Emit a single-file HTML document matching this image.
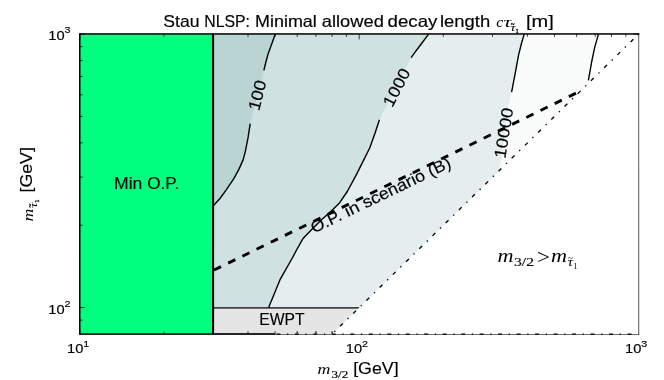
<!DOCTYPE html>
<html><head><meta charset="utf-8"><title>Stau NLSP</title>
<style>html,body{margin:0;padding:0;background:#fff;}body{width:664px;height:380px;overflow:hidden;}svg{display:block;will-change:transform;opacity:0.999;}text{font-family:"Liberation Sans",sans-serif;fill:#000;stroke:#000;stroke-width:0.15px;}.m{font-family:"Liberation Serif",serif;font-style:italic;stroke:none;}.r{font-family:"Liberation Serif",serif;stroke:none;}</style></head><body>
<svg width="664" height="380" viewBox="0 0 664 380">
<rect x="0" y="0" width="664" height="380" fill="#ffffff"/>
<clipPath id="ax"><rect x="79.8" y="34.1" width="558.8" height="300.0"/></clipPath>
<g clip-path="url(#ax)">
<path d="M213.1,34.1 L598.5,34.1 L594.7,47.4 L591.6,62.1 L588.4,80.3 L587.8,83.5 L400.0,340.0 L213.1,340.0" fill="#fafcfc"/>
<path d="M213.1,34.1 L524.2,34.1 L521.1,44.8 L518.5,55.4 L515.8,70.1 L511.6,92.2 L508.4,107.6 L504.5,135.0 L502.0,157.0 L498.5,171.0 L400.0,340.0 L213.1,340.0" fill="#e5eeee"/>
<path d="M213.1,34.1 L428.6,34.1 L421.2,44.0 L414.9,52.4 L411.1,57.7 L379.4,119.8 L375.0,133.2 L369.7,148.0 L363.4,160.6 L356.0,175.4 L347.3,191.5 L339.7,202.7 L331.3,211.1 L320.7,220.6 L311.2,230.1 L302.8,238.8 L296.0,251.0 L292.6,257.5 L280.2,279.3 L273.8,295.1 L268.6,307.5 L268.0,309.5 L213.1,309.5" fill="#d0e1e1"/>
<path d="M213.1,34.1 L275.3,34.1 L271.7,44.0 L267.9,54.5 L265.4,64.0 L263.9,70.4 L250.2,123.7 L248.1,137.4 L245.4,151.1 L243.2,159.6 L239.0,169.1 L233.8,178.6 L226.4,189.7 L220.0,198.5 L213.1,206.0" fill="#bad3d3"/>
<rect x="79.8" y="34.1" width="133.3" height="300.0" fill="#00ff7f"/>
<rect x="213.1" y="307.9" width="146.1" height="26.2" fill="#e5e5e5" stroke="#111" stroke-width="1.33"/>
</g>
<path d="M275.3,34.1 L271.7,44.0 L267.9,54.5 L265.4,64.0 L263.9,70.4" fill="none" stroke="#000" stroke-width="1.4" stroke-linejoin="round"/>
<path d="M250.2,123.7 L248.1,137.4 L245.4,151.1 L243.2,159.6 L239.0,169.1 L233.8,178.6 L226.4,189.7 L220.0,198.5 L213.1,206.0" fill="none" stroke="#000" stroke-width="1.4" stroke-linejoin="round"/>
<path d="M428.6,34.1 L421.2,44.0 L414.9,52.4 L411.1,57.7" fill="none" stroke="#000" stroke-width="1.4" stroke-linejoin="round"/>
<path d="M379.4,119.8 L375.0,133.2 L369.7,148.0 L363.4,160.6 L356.0,175.4 L347.3,191.5 L339.7,202.7 L331.3,211.1 L320.7,220.6 L311.2,230.1 L302.8,238.8 L296.0,251.0 L292.6,257.5 L280.2,279.3 L273.8,295.1 L268.6,307.5" fill="none" stroke="#000" stroke-width="1.4" stroke-linejoin="round"/>
<path d="M524.2,34.1 L521.1,44.8 L518.5,55.4 L515.8,70.1 L511.6,92.2" fill="none" stroke="#000" stroke-width="1.4" stroke-linejoin="round"/>
<path d="M598.5,34.1 L594.7,47.4 L591.6,62.1 L588.4,80.3" fill="none" stroke="#000" stroke-width="1.4" stroke-linejoin="round"/>
<line x1="213.1" y1="34.1" x2="213.1" y2="334.1" stroke="#000" stroke-width="2"/>
<line x1="213.1" y1="270.5" x2="579" y2="91.7" stroke="#000" stroke-width="2.9" stroke-dasharray="7.9 7.9" stroke-dashoffset="14.8"/>
<path d="M79.8,34.1v5.3M79.8,334.1v-5.3M163.9,34.1v2.7M163.9,334.1v-2.7M213.1,34.1v2.7M213.1,334.1v-2.7M248.0,34.1v2.7M248.0,334.1v-2.7M275.1,34.1v2.7M275.1,334.1v-2.7M297.2,34.1v2.7M297.2,334.1v-2.7M315.9,34.1v2.7M315.9,334.1v-2.7M332.1,34.1v2.7M332.1,334.1v-2.7M346.4,34.1v2.7M346.4,334.1v-2.7M359.2,34.1v5.3M359.2,334.1v-5.3M443.3,34.1v2.7M443.3,334.1v-2.7M492.5,34.1v2.7M492.5,334.1v-2.7M527.4,34.1v2.7M527.4,334.1v-2.7M554.5,34.1v2.7M554.5,334.1v-2.7M576.6,34.1v2.7M576.6,334.1v-2.7M595.3,34.1v2.7M595.3,334.1v-2.7M611.5,34.1v2.7M611.5,334.1v-2.7M625.8,34.1v2.7M625.8,334.1v-2.7M638.6,34.1v5.3M638.6,334.1v-5.3M79.8,320.1h2.7M638.6,320.1h-2.7M79.8,307.6h5.3M638.6,307.6h-5.3M79.8,225.3h2.7M638.6,225.3h-2.7M79.8,177.1h2.7M638.6,177.1h-2.7M79.8,142.9h2.7M638.6,142.9h-2.7M79.8,116.4h2.7M638.6,116.4h-2.7M79.8,94.8h2.7M638.6,94.8h-2.7M79.8,76.5h2.7M638.6,76.5h-2.7M79.8,60.6h2.7M638.6,60.6h-2.7M79.8,46.6h2.7M638.6,46.6h-2.7M79.8,34.1h5.3M638.6,34.1h-5.3" stroke="#000" stroke-width="0.75" fill="none"/>
<rect x="79.75" y="33.95" width="558.85" height="300.15" fill="none" stroke="#000" stroke-width="1.5"/>
<path d="M638.6,34.9L332.1,334.1L333.1,335.1L639.6,335.1L639.6,34.9Z" fill="#fff"/>
<rect x="275.6" y="333" width="56.5" height="1" fill="#e5e5e5"/>
<rect x="275.6" y="334" width="57.5" height="1.3" fill="#fff"/>
<path d="M297.2,334.1v-2.7M315.9,334.1v-2.7M332.1,334.1v-2.7" stroke="#000" stroke-width="0.67" fill="none"/>
<line x1="638.5" y1="34.8" x2="638.5" y2="335" stroke="#7c7c7c" stroke-width="1"/>
<line x1="275.6" y1="334.5" x2="639" y2="334.5" stroke="#6e6e6e" stroke-width="1"/>
<path d="M638.6,34.1L332.1,334.1" fill="none" stroke="#000" stroke-width="1.33" stroke-dasharray="3.96 6.6 1.32 6.6" stroke-dashoffset="11.2"/>
<path d="M276.4,334.1L638.6,334.1" fill="none" stroke="#000" stroke-width="1.33" stroke-dasharray="3.96 6.6 1.32 6.6" stroke-dashoffset="0"/>
<text x="163.3" y="26.8" font-size="16.5" textLength="36.2" lengthAdjust="spacingAndGlyphs" >Stau</text>
<text x="204.2" y="26.8" font-size="16.5" textLength="45.8" lengthAdjust="spacingAndGlyphs" >NLSP:</text>
<text x="255.0" y="26.8" font-size="16.5" textLength="61.8" lengthAdjust="spacingAndGlyphs" >Minimal</text>
<text x="321.8" y="26.8" font-size="16.5" textLength="62.1" lengthAdjust="spacingAndGlyphs" >allowed</text>
<text x="387.6" y="26.8" font-size="16.5" textLength="49.8" lengthAdjust="spacingAndGlyphs" >decay</text>
<text x="440.0" y="26.8" font-size="16.5" textLength="50.2" lengthAdjust="spacingAndGlyphs" >length</text>
<text x="526.0" y="26.8" font-size="16.5" textLength="27.8" lengthAdjust="spacingAndGlyphs" >[m]</text>
<text x="496.2" y="26.8" font-size="15.5" textLength="7.0" lengthAdjust="spacingAndGlyphs" class="m" >c</text>
<text x="503.4" y="26.8" font-size="15.5" textLength="7.8" lengthAdjust="spacingAndGlyphs" class="m" >&#964;</text>
<text x="510.2" y="30.6" font-size="10.5" textLength="5.4" lengthAdjust="spacingAndGlyphs" class="m" >&#964;</text>
<text x="510.8" y="26.9" font-size="9.0" textLength="3.8" lengthAdjust="spacingAndGlyphs" class="r" style="stroke:#000;stroke-width:0.4px">~</text>
<text x="515.4" y="33.0" font-size="7.0" textLength="3.2" lengthAdjust="spacingAndGlyphs" class="r" style="stroke:#000;stroke-width:0.35px">1</text>
<text x="48.3" y="40.0" font-size="13.5" textLength="16.3" lengthAdjust="spacingAndGlyphs" >10</text>
<text x="64.5" y="33.2" font-size="9.5" textLength="6.0" lengthAdjust="spacingAndGlyphs" >3</text>
<text x="48.3" y="313.6" font-size="13.5" textLength="16.3" lengthAdjust="spacingAndGlyphs" >10</text>
<text x="64.5" y="306.8" font-size="9.5" textLength="6.0" lengthAdjust="spacingAndGlyphs" >2</text>
<text x="67.0" y="353.3" font-size="13.5" textLength="16.3" lengthAdjust="spacingAndGlyphs" >10</text>
<text x="83.2" y="346.5" font-size="9.5" textLength="6.0" lengthAdjust="spacingAndGlyphs" >1</text>
<text x="345.8" y="353.3" font-size="13.5" textLength="16.3" lengthAdjust="spacingAndGlyphs" >10</text>
<text x="362.0" y="346.5" font-size="9.5" textLength="6.0" lengthAdjust="spacingAndGlyphs" >2</text>
<text x="625.0" y="353.3" font-size="13.5" textLength="16.3" lengthAdjust="spacingAndGlyphs" >10</text>
<text x="641.2" y="346.5" font-size="9.5" textLength="6.0" lengthAdjust="spacingAndGlyphs" >3</text>
<text x="317.6" y="373.9" font-size="15.0" textLength="12.8" lengthAdjust="spacingAndGlyphs" class="m" >m</text>
<text x="331.5" y="377.6" font-size="10.8" textLength="16.8" lengthAdjust="spacingAndGlyphs" class="r" style="stroke:#000;stroke-width:0.2px">3/2</text>
<text x="353.2" y="373.9" font-size="16.5" textLength="45.4" lengthAdjust="spacingAndGlyphs" >[GeV]</text>
<g transform="translate(32.1,192) rotate(-90)">
<text x="-0.5" y="0.0" font-size="16.5" textLength="45.4" lengthAdjust="spacingAndGlyphs" >[GeV]</text>
</g>
<g transform="translate(32.9,221.6) rotate(-90)">
<text x="0.0" y="0.0" font-size="15.5" textLength="12.8" lengthAdjust="spacingAndGlyphs" class="m" >m</text>
<text x="13.6" y="3.9" font-size="10.5" textLength="5.4" lengthAdjust="spacingAndGlyphs" class="m" >&#964;</text>
<text x="14.2" y="0.2" font-size="9.0" textLength="3.8" lengthAdjust="spacingAndGlyphs" class="r" style="stroke:#000;stroke-width:0.4px">~</text>
<text x="18.8" y="6.3" font-size="7.0" textLength="3.2" lengthAdjust="spacingAndGlyphs" class="r" style="stroke:#000;stroke-width:0.35px">1</text>
</g>
<text x="114.0" y="189.4" font-size="16.5" textLength="28.3" lengthAdjust="spacingAndGlyphs" >Min</text>
<text x="147.2" y="189.4" font-size="16.5" textLength="32.0" lengthAdjust="spacingAndGlyphs" >O.P.</text>
<text x="259.3" y="324.5" font-size="16.5" textLength="45.3" lengthAdjust="spacingAndGlyphs" >EWPT</text>
<g transform="translate(314,233.5) rotate(-25.8)">
<text x="0.0" y="0.0" font-size="16.5" textLength="32.4" lengthAdjust="spacingAndGlyphs" >O.P.</text>
<text x="37.5" y="0.0" font-size="16.5" textLength="14.6" lengthAdjust="spacingAndGlyphs" >in</text>
<text x="57.2" y="0.0" font-size="16.5" textLength="67.7" lengthAdjust="spacingAndGlyphs" >scenario</text>
<text x="130.0" y="0.0" font-size="16.5" textLength="23.5" lengthAdjust="spacingAndGlyphs" >(B)</text>
</g>
<g transform="translate(257.2,95.3) rotate(-75.4)">
<text x="0" y="5.8" font-size="16.5" text-anchor="middle" textLength="30.5" lengthAdjust="spacingAndGlyphs">100</text>
</g>
<g transform="translate(396.5,87.4) rotate(-62.8)">
<text x="0" y="5.8" font-size="16.5" text-anchor="middle" textLength="40.7" lengthAdjust="spacingAndGlyphs">1000</text>
</g>
<g transform="translate(503.6,132.9) rotate(-81.0)">
<text x="0" y="5.8" font-size="16.5" text-anchor="middle" textLength="50.9" lengthAdjust="spacingAndGlyphs">10000</text>
</g>
<text x="497.5" y="262.1" font-size="19.5" textLength="16.0" lengthAdjust="spacingAndGlyphs" class="m" >m</text>
<text x="514.0" y="266.1" font-size="11.5" textLength="20.0" lengthAdjust="spacingAndGlyphs" class="r" style="stroke:#000;stroke-width:0.15px">3/2</text>
<text x="537.0" y="263.5" font-size="21.0" textLength="13.0" lengthAdjust="spacingAndGlyphs" class="r" >&gt;</text>
<text x="551.0" y="262.1" font-size="19.5" textLength="16.0" lengthAdjust="spacingAndGlyphs" class="m" >m</text>
<text x="567.6" y="266.1" font-size="11.5" textLength="5.5" lengthAdjust="spacingAndGlyphs" class="m" >&#964;</text>
<text x="568.0" y="260.5" font-size="9.0" textLength="5.0" lengthAdjust="spacingAndGlyphs" class="r" >~</text>
<text x="573.6" y="269.3" font-size="8.5" textLength="4.0" lengthAdjust="spacingAndGlyphs" class="r" >1</text>
</svg></body></html>
